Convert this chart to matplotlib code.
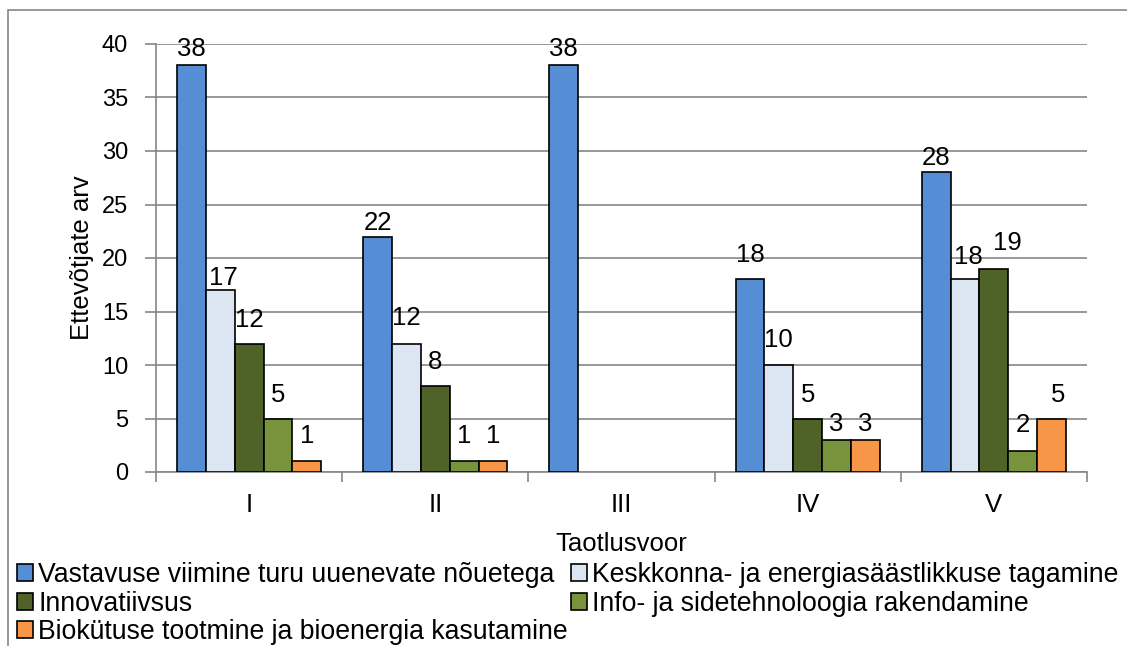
import numpy as np
import matplotlib
matplotlib.use("Agg")
import matplotlib.pyplot as plt
from matplotlib.patches import Rectangle

plt.rcParams["font.family"] = ["Liberation Sans", "DejaVu Sans"]

rounds = ["I", "II", "III", "IV", "V"]
series_names = [
    "Vastavuse viimine turu uuenevate nõuetega",
    "Keskkonna- ja energiasäästlikkuse tagamine",
    "Innovatiivsus",
    "Info- ja sidetehnoloogia rakendamine",
    "Biokütuse tootmine ja bioenergia kasutamine",
]
vastavus = [38, 22, 38, 18, 28]
keskkond = [17, 12, np.nan, 10, 18]
innov = [12, 8, np.nan, 5, 19]
info = [5, 1, np.nan, 3, 2]
bio = [1, 1, np.nan, 3, 5]
series = [vastavus, keskkond, innov, info, bio]
colors = ["#558ED5", "#DCE6F2", "#4F6228", "#77933C", "#F79646"]

# label gaps above bars (pixels), per series then per round
gaps = [[9, 7, 9, 17, 7],
        [5, 19, 0, 18, 15],
        [17, 17, 0, 17, 19],
        [17, 18, 0, 9, 19],
        [18, 18, 0, 9, 17]]
xshift = [[0, 0, 0, 0, 0],
          [3, 0, 0, 0, 3],
          [0, 0, 0, 0, 13],
          [0, 0, 0, 0, 0],
          [0, 0, 0, 0, 6]]

fig = plt.figure(figsize=(11.27, 6.46), dpi=100)
ax = fig.add_axes([156 / 1127, 1 - 472 / 646, 931 / 1127, 428 / 646])

# outer chart frame
fig.patches.append(Rectangle((8 / 1127, -0.1), 1.2, 1 - 10 / 646 + 0.1,
                             transform=fig.transFigure, fill=False,
                             edgecolor="#868686", linewidth=1.2))

x = np.arange(len(rounds))
w = 0.155
for i, (vals, c) in enumerate(zip(series, colors)):
    pos = x + (i - 2) * w
    ax.bar(pos, vals, w, color=c, edgecolor="black", linewidth=1.2,
           label=series_names[i], zorder=3)
    for j, (p, v) in enumerate(zip(pos, vals)):
        if np.isnan(v):
            continue
        ax.annotate(str(int(v)), (p, v), xytext=(xshift[i][j], gaps[i][j] - 5),
                    textcoords="offset pixels", ha="center", va="bottom",
                    fontsize=18.5, zorder=4)

ax.set_xlim(-0.5, 4.5)
ax.set_ylim(0, 40)
ax.set_yticks(range(0, 41, 5))
ax.set_xticks(x)
ax.set_xticklabels(rounds)
ax.set_xticks(np.arange(-0.5, 5, 1), minor=True)
ax.tick_params(axis="x", which="major", length=0, labelsize=18.5, pad=15)
ax.tick_params(axis="x", which="minor", length=7, color="#868686", width=1.2)
ax.tick_params(axis="y", length=8, color="#868686", width=1.2, labelsize=17, pad=12)
ax.yaxis.grid(True, color="#868686", linewidth=1.2, zorder=0)
ax.set_axisbelow(True)
for s in ["top", "right"]:
    ax.spines[s].set_visible(False)
for s in ["left", "bottom"]:
    ax.spines[s].set_color("#868686")
    ax.spines[s].set_linewidth(1.2)

ax.set_ylabel("Ettevõtjate arv", fontsize=18.5, labelpad=6)
ax.set_xlabel("Taotlusvoor", fontsize=18.5, labelpad=11)

h, l = ax.get_legend_handles_labels()
order = [0, 2, 4, 1, 3]
leg = fig.legend([h[k] for k in order], [l[k] for k in order], ncol=2,
                 loc="upper left", bbox_to_anchor=(17 / 1127, 1 - 562 / 646),
                 frameon=False, fontsize=19.2, handlelength=0.6, handleheight=0.6,
                 handletextpad=0.2, columnspacing=0.12, labelspacing=0.1,
                 borderpad=0, borderaxespad=0)

fig.savefig("out.png", dpi=100)
